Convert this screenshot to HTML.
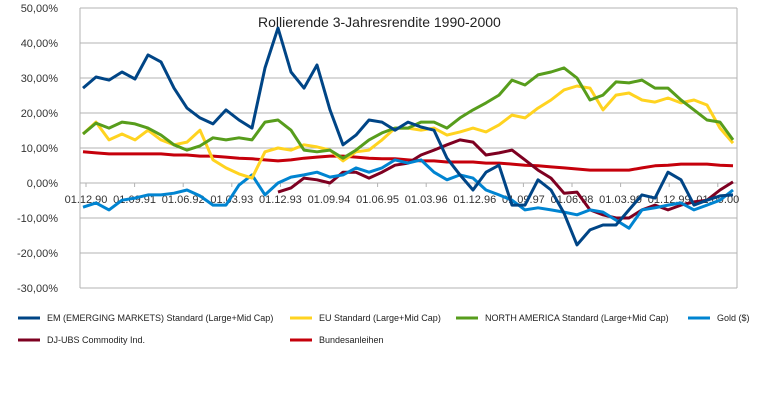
<!DOCTYPE html>
<html><head><meta charset="utf-8"><style>
body{margin:0;background:#fff;}
svg{display:block;font-family:"Liberation Sans",sans-serif;}
</style></head><body>
<svg id="chart" width="770" height="401">
<g id="grid"></g>
<g id="ylabels"></g>
<g id="xlabels"></g>
<g id="series"></g>
<text x="258" y="27" font-size="14" fill="#222">Rollierende 3-Jahresrendite 1990-2000</text>
<g id="legend"></g>
</svg>
<script>
const yTicks = [50,40,30,20,10,0,-10,-20,-30];
const xLabels = ["01.12.90","01.09.91","01.06.92","01.03.93","01.12.93","01.09.94","01.06.95","01.03.96","01.12.96","01.09.97","01.06.98","01.03.99","01.12.99","01.09.00"];
const seriesNames = ["EM (EMERGING MARKETS) Standard (Large+Mid Cap)","EU Standard (Large+Mid Cap)","NORTH AMERICA Standard (Large+Mid Cap)","Gold ($)","DJ-UBS Commodity Ind.","Bundesanleihen"];
const seriesColors = ["#004586","#ffd320","#579d1c","#0084d1","#7e0021","#c5000b"];
const emValues = [27.1,30.3,29.4,31.7,29.7,36.6,34.6,27.1,21.4,18.6,16.9,20.9,18,15.7,32.9,44.3,31.7,27.1,33.7,20.9,10.9,13.7,18,17.4,15.1,17.4,16,15.1,7.1,2.3,-2,3.1,5.1,-6.3,-6.3,0.9,-2,-8.6,-17.7,-13.4,-12,-12,-7.7,-3.4,-4.3,3.1,0.9,-6.3,-4.9,-3.7,-3.4];
const euValues = [14,17.4,12.3,14,12.3,15.1,12.3,10.9,11.7,15.1,6.6,4.3,2.6,1.4,8.9,10,9.4,10.9,10.3,9.4,6.3,8.9,9.4,12.3,15.7,15.7,15.1,15.7,13.7,14.6,15.7,14.6,16.6,19.4,18.6,21.4,23.7,26.6,27.7,27.1,20.9,25.1,25.7,23.7,23.1,24.3,22.9,23.7,22.3,15.7,11.4];
const naValues = [14,17.1,15.7,17.4,16.9,15.7,13.7,10.9,9.4,10.6,12.9,12.3,12.9,12.3,17.4,18,15.1,9.4,8.9,9.4,7.1,9.4,12.3,14.3,15.7,15.7,17.4,17.4,15.7,18.6,20.9,22.9,25.1,29.4,28,30.9,31.7,32.9,30,23.7,25.1,28.9,28.6,29.4,27.1,27.1,23.7,20.9,18,17.4,12.3];
const goldValues = [-6.9,-5.7,-7.7,-4.9,-4.3,-3.4,-3.4,-2.9,-2,-3.7,-6.3,-6.3,-0.6,2.3,-3.4,0,1.7,2.3,3.1,1.7,2.3,4.3,3.1,4.3,6.6,5.7,6.6,3.1,0.9,2.3,1.4,-2,-3.4,-4.9,-7.7,-7.1,-7.7,-8.3,-9.1,-7.7,-8.3,-10.6,-12.9,-7.7,-7.1,-6.3,-5.7,-7.7,-6.3,-4.9,-2];
const djValues = [null,null,null,null,null,null,null,null,null,null,null,null,null,null,null,-2.6,-1.4,1.4,0.9,0,3.1,3.1,1.4,3.1,5.1,5.7,8,9.4,10.9,12.3,11.7,8,8.6,9.4,6.6,3.7,1.4,-2.9,-2.6,-7.7,-9.1,-10,-10,-7.7,-6.3,-7.7,-6.3,-5.4,-4.9,-2,0.3];
const bundValues = [8.9,8.6,8.3,8.3,8.3,8.3,8.3,8,8,7.7,7.7,7.4,7.1,6.9,6.6,6.3,6.6,7.1,7.4,7.7,7.7,7.4,7.1,6.9,6.9,6.6,6.3,6.3,6,6,6,5.7,5.7,5.4,5.1,4.9,4.6,4.3,4,3.7,3.7,3.7,3.7,4.3,4.9,5.1,5.4,5.4,5.4,5.1,4.9];
const allSeries = [emValues,euValues,naValues,goldValues,djValues,bundValues];

const NS="http://www.w3.org/2000/svg";
const X0=83,X1=733,PL=80,PR=737;
function yScale(v){return 183-v*3.5;}
function xScale(i,n){return X0+(X1-X0)*i/(n-1);}
function mk(tag,attrs,parent){const e=document.createElementNS(NS,tag);for(const k in attrs)e.setAttribute(k,attrs[k]);parent.appendChild(e);return e;}

const grid=document.getElementById('grid');
yTicks.forEach(t=>{
  const l=mk('line',{x1:PL,x2:PR,y1:yScale(t),y2:yScale(t),stroke:'#b3b3b3','stroke-width':1},grid);
  
  
});
const ax=mk('line',{x1:PL,x2:PL,y1:yScale(50),y2:yScale(-30),stroke:'#b3b3b3','stroke-width':1},grid);


const rb=mk('line',{x1:PR,x2:PR,y1:yScale(50),y2:yScale(-30),stroke:'#b3b3b3','stroke-width':1},grid);



const yl=document.getElementById('ylabels');
yTicks.forEach(t=>{
  const e=mk('text',{x:58,y:yScale(t)+4,'font-size':11,'text-anchor':'end',fill:'#333'},yl);
  e.textContent=t.toFixed(2).replace('.',',')+'%';
  
  
});
const xl=document.getElementById('xlabels');
xLabels.forEach((s,i)=>{
  const x=X0+3+48.6*i;
  const tk=mk('line',{x1:x,x2:x,y1:183,y2:187,stroke:'#b3b3b3'},xl);
  
  
  const e=mk('text',{x:x,y:203,'font-size':11,'text-anchor':'middle',fill:'#333'},xl);
  e.textContent=s;
  
  
});

const sg=document.getElementById('series');
const order=[5,4,3,1,2,0];
order.forEach(si=>{
  const vals=allSeries[si];let d='';let pen=false;
  vals.forEach((v,i)=>{
    if(v===null){pen=false;return;}
    d+=(pen?'L':'M')+xScale(i,vals.length).toFixed(1)+' '+yScale(v).toFixed(1)+' ';pen=true;
  });
  const p=mk('path',{d:d,fill:'none',stroke:seriesColors[si],'stroke-width':3,'stroke-linejoin':'round'},sg);
  
  
});

const lg=document.getElementById('legend');
const legPos=[[18,318],[290,318],[456,318],[688,318],[18,340],[290,340]];
seriesNames.forEach((n,i)=>{
  const [x,y]=legPos[i];
  const g=mk('g',{},lg);
  
  
  mk('line',{x1:x,x2:x+22,y1:y,y2:y,stroke:seriesColors[i],'stroke-width':3},g);
  const t=mk('text',{x:x+29,y:y+3,'font-size':9,fill:'#222'},g);
  t.textContent=n;
});
</script>
</body></html>
